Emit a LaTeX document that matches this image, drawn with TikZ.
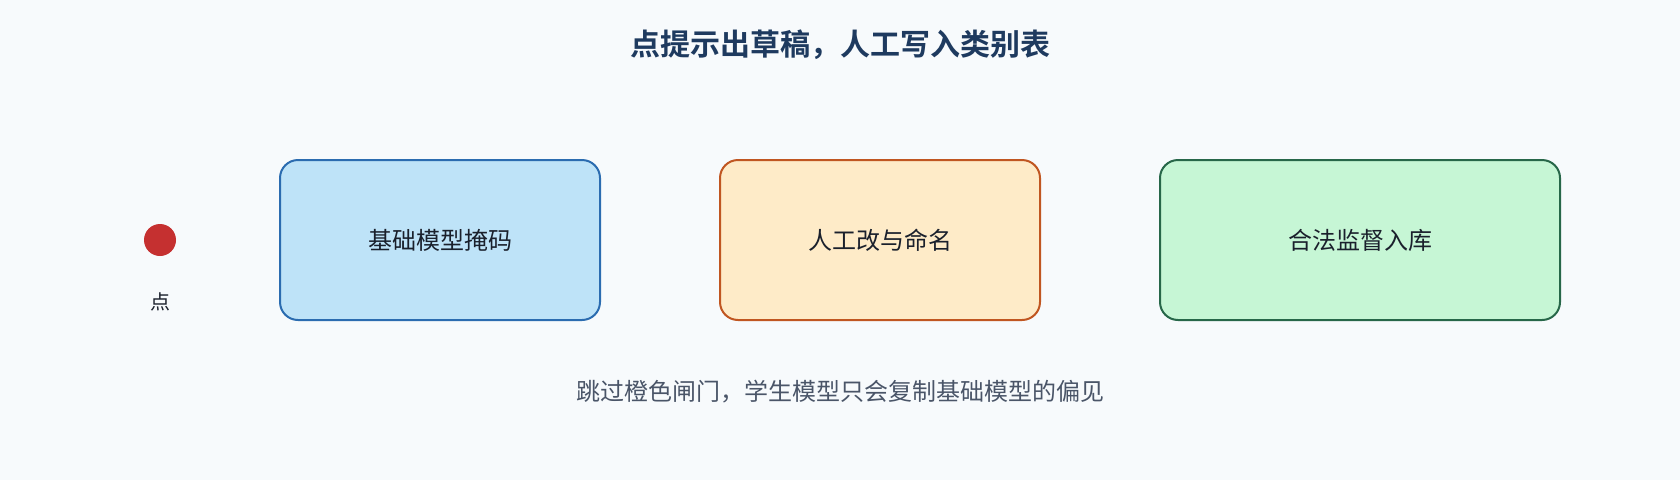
\documentclass[tikz,border=0pt]{standalone}
\usepackage{fontspec}
\setmainfont{Noto Sans CJK SC}
\newfontfamily\cjkbold{Noto Sans CJK SC Bold}
\definecolor{bgc}{HTML}{F7FAFC}
\definecolor{titlec}{HTML}{1E3A5F}
\definecolor{bluefill}{HTML}{BEE3F8}
\definecolor{blueline}{HTML}{2B6CB0}
\definecolor{orangefill}{HTML}{FEEBC8}
\definecolor{orangeline}{HTML}{C05621}
\definecolor{greenfill}{HTML}{C6F6D5}
\definecolor{greenline}{HTML}{276749}
\definecolor{dotc}{HTML}{C53030}
\definecolor{textc}{HTML}{1A202C}
\definecolor{notec}{HTML}{4A5568}
\tikzset{
  stagebox/.style={draw, line width=2pt, rounded corners=18pt, inner sep=0pt,
    font=\fontsize{24}{28}\selectfont, text=textc},
}
\begin{document}
\begin{tikzpicture}[x=1pt,y=-1pt]
\fill[bgc] (0,0) rectangle (1680,480);
\useasboundingbox (0,0) rectangle (1680,480);
\node[font=\cjkbold\fontsize{30}{34}\selectfont, text=titlec] (title) at (840,45) {点提示出草稿，人工写入类别表};
\node[circle, fill=dotc, minimum size=32pt, inner sep=0pt] (dot) at (160,240) {};
\node[font=\fontsize{20}{24}\selectfont, text=textc] (dotlabel) at (160,302) {点};
\node[stagebox, fill=bluefill, draw=blueline, minimum width=320pt, minimum height=160pt] (b1) at (440,240) {基础模型掩码};
\node[stagebox, fill=orangefill, draw=orangeline, minimum width=320pt, minimum height=160pt] (b2) at (880,240) {人工改与命名};
\node[stagebox, fill=greenfill, draw=greenline, minimum width=400pt, minimum height=160pt] (b3) at (1360,240) {合法监督入库};
\node[font=\fontsize{24}{28}\selectfont, text=notec] (note) at (840,392) {跳过橙色闸门，学生模型只会复制基础模型的偏见};
\end{tikzpicture}
\end{document}
